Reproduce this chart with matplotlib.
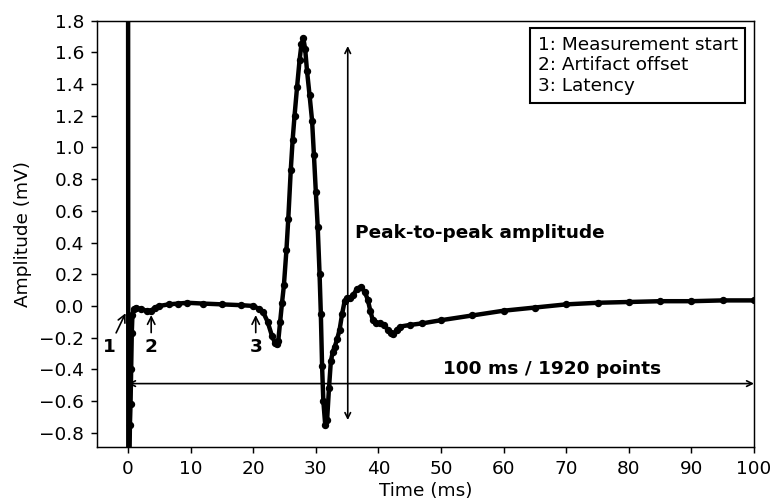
import matplotlib
matplotlib.use("Agg")
import matplotlib.pyplot as plt

plt.rcParams["font.family"] = ["DejaVu Sans"]
FS = 13.3

# Key points (time in ms, amplitude in mV)
time_ms = [0.0, 0.05, 0.3, 0.4, 0.5, 0.6, 0.7, 0.9, 1.3, 2.0, 3.0, 3.7, 4.3, 5.0,
           6.5, 8.0, 9.5, 12.0, 15.0, 18.0, 20.0, 21.0, 21.6, 22.3, 23.0, 23.5, 23.8,
           24.0, 24.3, 24.6, 24.9, 25.3, 25.6, 26.0, 26.3, 26.6, 27.0, 27.4, 27.7,
           28.0, 28.3, 28.6, 29.0, 29.4, 29.7, 30.0, 30.3, 30.6, 30.8, 31.0, 31.2,
           31.5, 31.8, 32.1, 32.4, 32.7, 33.0, 33.4, 33.8, 34.2, 34.6, 35.0, 35.5,
           36.0, 36.6, 37.2, 37.8, 38.3, 38.7, 39.1, 39.6, 40.3, 40.9, 41.5, 42.0,
           42.4, 42.9, 43.5, 45.0, 47.0, 50.0, 55.0, 60.0, 65.0, 70.0, 75.0, 80.0,
           85.0, 90.0, 95.0, 100.0]
amplitude_mv = [3.0, -1.5, -0.75, -0.62, -0.40, -0.17, -0.06, -0.02, -0.01, -0.02,
                -0.03, -0.03, -0.01, 0.0, 0.01, 0.015, 0.02, 0.015, 0.01, 0.005, 0.0,
                -0.02, -0.04, -0.10, -0.19, -0.235, -0.24, -0.22, -0.10, 0.02, 0.13,
                0.35, 0.55, 0.86, 1.05, 1.20, 1.38, 1.55, 1.65, 1.69, 1.62, 1.48,
                1.33, 1.17, 0.95, 0.72, 0.50, 0.20, -0.05, -0.38, -0.60, -0.75, -0.72,
                -0.52, -0.35, -0.29, -0.26, -0.21, -0.15, -0.05, 0.03, 0.05, 0.05,
                0.07, 0.11, 0.12, 0.09, 0.04, -0.03, -0.09, -0.11, -0.11, -0.12,
                -0.15, -0.17, -0.18, -0.15, -0.13, -0.12, -0.11, -0.09, -0.06, -0.03,
                -0.01, 0.01, 0.02, 0.025, 0.03, 0.03, 0.035, 0.035]

x_ticks = [0, 10, 20, 30, 40, 50, 60, 70, 80, 90, 100]
y_ticks = [-0.8, -0.6, -0.4, -0.2, 0.0, 0.2, 0.4, 0.6, 0.8, 1.0, 1.2, 1.4, 1.6, 1.8]
legend_text = "1: Measurement start\n2: Artifact offset\n3: Latency"

fig = plt.figure(figsize=(7.72, 5.01), dpi=100)
ax = fig.add_axes([0.1253, 0.1078, 0.9767 - 0.1253, 0.9587 - 0.1078])
for sp in ax.spines.values():
    sp.set_linewidth(1.05)

ax.plot(time_ms, amplitude_mv, color="black", lw=3.2, marker="o", ms=4.3,
        solid_joinstyle="round", solid_capstyle="round")

ax.set_xlim(-5, 100)
ax.set_ylim(-0.89, 1.8)
ax.set_xticks(x_ticks)
ax.set_yticks(y_ticks)
ax.set_yticklabels([f"{v:.1f}".replace("-", "\u2212") for v in y_ticks])
ax.tick_params(labelsize=FS, length=4.6, width=1.05, pad=4.5)
ax.set_xlabel("Time (ms)", fontsize=FS, labelpad=3)
ax.set_ylabel("Amplitude (mV)", fontsize=FS, labelpad=5)

arrow = dict(arrowstyle="->", color="black", lw=1.2)
ax.annotate("1", xy=(-0.2, -0.03), xytext=(-3.0, -0.26), ha="center", va="center",
            fontsize=FS, fontweight="bold", arrowprops=arrow)
ax.annotate("2", xy=(3.7, -0.04), xytext=(3.7, -0.26), ha="center", va="center",
            fontsize=FS, fontweight="bold", arrowprops=arrow)
ax.annotate("3", xy=(20.4, -0.04), xytext=(20.4, -0.26), ha="center", va="center",
            fontsize=FS, fontweight="bold", arrowprops=arrow)

dbl = dict(arrowstyle="<->", color="black", lw=1.2, shrinkA=0, shrinkB=0)
ax.annotate("", xy=(35.1, 1.64), xytext=(35.1, -0.72), arrowprops=dbl)
ax.text(36.2, 0.46, "Peak-to-peak amplitude", fontsize=FS, fontweight="bold",
        ha="left", va="center")
ax.annotate("", xy=(0.0, -0.49), xytext=(100.0, -0.49), arrowprops=dbl)
ax.text(67.7, -0.40, "100 ms / 1920 points", fontsize=FS, fontweight="bold",
        ha="center", va="center")

ax.text(0.9755, 0.965, legend_text, transform=ax.transAxes, ha="right", va="top",
        fontsize=FS, linespacing=1.2, multialignment="left",
        bbox=dict(boxstyle="square,pad=0.4", fc="white", ec="black", lw=1.5))

fig.savefig("out.png", dpi=100)
